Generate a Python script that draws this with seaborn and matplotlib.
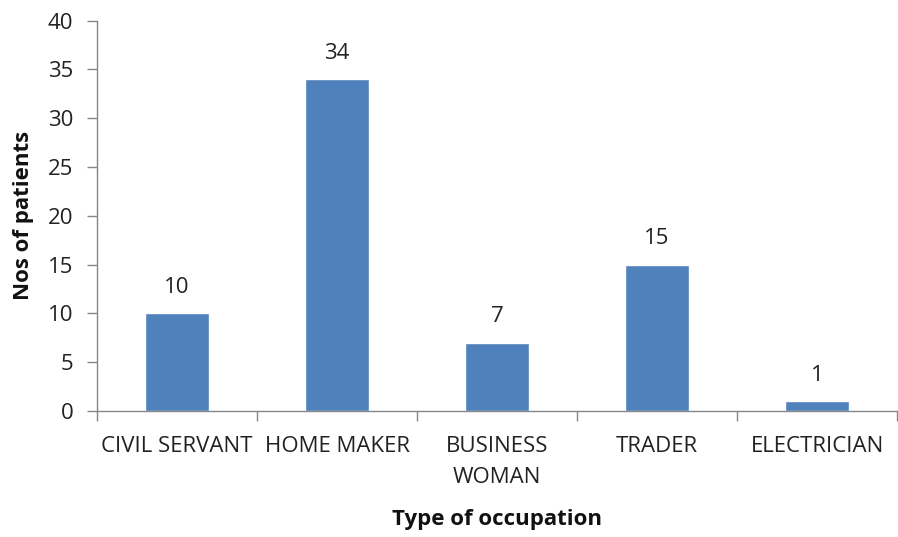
import matplotlib
matplotlib.use("Agg")
import matplotlib.pyplot as plt
import seaborn as sns
import pandas as pd
from matplotlib.ticker import FixedLocator

categories = ["CIVIL SERVANT", "HOME MAKER", "BUSINESS\nWOMAN", "TRADER", "ELECTRICIAN"]
patients = [10, 34, 7, 15, 1]
y_ticks = [0, 5, 10, 15, 20, 25, 30, 35, 40]

sns.set_theme(style="white")
plt.rcParams['font.family'] = ['Open Sans', 'DejaVu Sans']

df = pd.DataFrame({"occupation": categories, "patients": patients})

fig = plt.figure(figsize=(8.98, 5.37), dpi=100)
ax = fig.add_axes([0.108, 0.2346, 0.891, 0.727])
sns.barplot(data=df, x="occupation", y="patients", color="#4F81BD", width=0.4,
            saturation=1, ax=ax)

ax.set_ylim(0, 40)
ax.set_xlim(-0.5, len(categories) - 0.5)
ax.set_yticks(y_ticks)
ax.tick_params(axis="y", labelsize=16, length=7, width=1, color="#868686",
               direction="out", left=True, pad=10, labelcolor="#222222")
ax.tick_params(axis="x", which="major", length=0, labelsize=16, pad=18, labelcolor="#222222")
ax.xaxis.set_minor_locator(FixedLocator([i - 0.5 for i in range(len(categories) + 1)]))
ax.tick_params(axis="x", which="minor", length=7, width=1, color="#868686", bottom=True)
for lab in ax.get_xticklabels():
    lab.set_linespacing(1.62)
    lab.set_verticalalignment("top")

for s in ["top", "right"]:
    ax.spines[s].set_visible(False)
for s in ["left", "bottom"]:
    ax.spines[s].set_color("#868686")
    ax.spines[s].set_linewidth(1)

for i, v in enumerate(patients):
    ax.annotate(str(v), (i, v), xytext=(0, 11), textcoords="offset points",
                ha="center", va="bottom", fontsize=16, color="#222222")

ax.set_xlabel("Type of occupation", fontsize=16, fontweight="bold", labelpad=15, color="#111111")
ax.set_ylabel("Nos of patients", fontsize=16, fontweight="bold", labelpad=10, color="#111111")

fig.savefig("out.png", dpi=100)
